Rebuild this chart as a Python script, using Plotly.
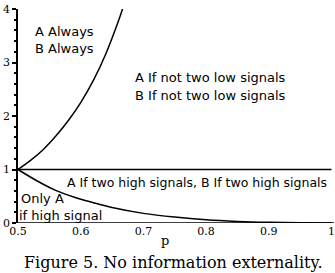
import plotly.graph_objects as go

# Upper boundary curve
up_p = [0.50, 0.52, 0.54, 0.56, 0.58, 0.60, 0.62, 0.64, 0.66, 0.67]
up_v = [1.00, 1.17, 1.37, 1.62, 1.91, 2.25, 2.66, 3.16, 3.77, 4.12]

# Lower boundary curve
low_p = [0.50, 0.53, 0.56, 0.59, 0.62, 0.65, 0.70, 0.75, 0.80, 0.85, 0.90, 0.95, 1.00]
low_v = [1.00, 0.79, 0.61, 0.48, 0.38, 0.29, 0.18, 0.11, 0.06, 0.03, 0.012, 0.003, 0.0]

# Horizontal line at 1
mid_p = [0.5, 1.0]
mid_v = [1.0, 1.0]

x_ticks = [0.5, 0.6, 0.7, 0.8, 0.9, 1.0]
x_labels = ["0.5", "0.6", "0.7", "0.8", "0.9", "1"]
y_ticks = [0, 1, 2, 3, 4]
y_labels = ["0", "1", "2", "3", "4"]

line = dict(color="black", width=1.5)
fig = go.Figure()
for xs, ys in [(up_p, up_v), (low_p, low_v), (mid_p, mid_v)]:
    fig.add_trace(go.Scatter(x=xs, y=ys, mode="lines", line=line,
                             line_shape="spline", showlegend=False, hoverinfo="skip"))

serif = dict(family="DejaVu Serif", size=11, color="black")

# plot area spans px 18..334, py 223..9
def px(x):
    return (x - 18) / 316
def py(y):
    return (223 - y) / 214

texts = [
    (33, 31.7, "A Always", 13),
    (33, 48.3, "B Always", 13),
    (133, 77, "A If not two low signals", 13),
    (133, 95, "B If not two low signals", 13),
    (65, 182, "A If two high signals, B If two high signals", 12.5),
    (19, 198.5, "Only A", 13),
    (16.5, 215.5, "if high signal", 13),
]
for x, y, t, s in texts:
    fig.add_annotation(x=px(x), y=py(y), xref="paper", yref="paper", text=t,
                       showarrow=False, xanchor="left", yanchor="middle",
                       font=dict(family="DejaVu Sans", size=s, color="black"))

fig.add_annotation(x=px(165), y=py(240), xref="paper", yref="paper", text="p",
                   showarrow=False, xanchor="center", yanchor="middle",
                   font=dict(family="DejaVu Serif", size=13, color="black"))
fig.add_annotation(x=px(173), y=py(262), xref="paper", yref="paper",
                   text="Figure 5. No information externality.", showarrow=False,
                   xanchor="center", yanchor="middle",
                   font=dict(family="DejaVu Serif", size=16, color="black"))

fig.update_layout(
    width=335, height=273,
    margin=dict(l=18, r=1, t=9, b=50),
    plot_bgcolor="white", paper_bgcolor="white",
    xaxis=dict(range=[0.5, 1.004], tickvals=x_ticks, ticktext=x_labels,
               showgrid=False, zeroline=False, showline=False,
               ticks="", tickfont=serif),
    yaxis=dict(range=[0, 4], tickvals=y_ticks, ticktext=y_labels,
               showgrid=False, zeroline=False, showline=True, linecolor="black",
               linewidth=1.5, ticks="outside", ticklen=4, tickwidth=1.5,
               tickcolor="black", tickfont=serif,
               minor=dict(ticks="outside", ticklen=2, dtick=0.2, tickcolor="black")),
)
fig.add_shape(type="line", x0=0.5, x1=1.004, y0=0, y1=0, xref="x", yref="y",
              line=dict(color="black", width=1.5))

fig.write_html("out.html")
